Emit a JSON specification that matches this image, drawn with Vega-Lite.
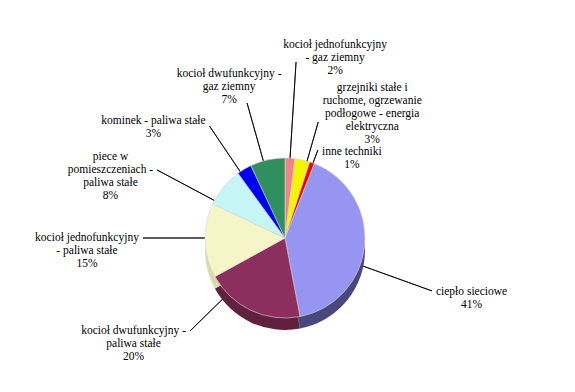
{
  "$schema": "https://vega.github.io/schema/vega-lite/v6.json",
  "width": 570,
  "height": 352,
  "autosize": {"type": "none"},
  "padding": {"left": 0, "top": 62, "right": 5, "bottom": 0},
  "background": "white",
  "view": {"stroke": null},
  "config": {"text": {"font": "Liberation Serif, Times New Roman, DejaVu Serif, serif", "fontSize": 11.5, "lineHeight": 13, "lineBreak": "\n", "align": "center", "baseline": "middle", "fill": "#000"}},
  "data": {
    "values": [
      {"order": 1, "category": "kocioł jednofunkcyjny - gaz ziemny", "label": "kocioł jednofunkcyjny\n- gaz ziemny\n2%", "share": 2},
      {"order": 2, "category": "grzejniki stałe i ruchome, ogrzewanie podłogowe - energia elektryczna", "label": "grzejniki stałe i\nruchome, ogrzewanie\npodłogowe - energia\nelektryczna\n3%", "share": 3},
      {"order": 3, "category": "inne techniki", "label": "inne techniki\n1%", "share": 1},
      {"order": 4, "category": "ciepło sieciowe", "label": "ciepło sieciowe\n41%", "share": 41},
      {"order": 5, "category": "kocioł dwufunkcyjny - paliwa stałe", "label": "kocioł dwufunkcyjny -\npaliwa stałe\n20%", "share": 20},
      {"order": 6, "category": "kocioł jednofunkcyjny - paliwa stałe", "label": "kocioł jednofunkcyjny\n- paliwa stałe\n15%", "share": 15},
      {"order": 7, "category": "piece w pomieszczeniach - paliwa stałe", "label": "piece w\npomieszczeniach -\npaliwa stałe\n8%", "share": 8},
      {"order": 8, "category": "kominek - paliwa stałe", "label": "kominek - paliwa stałe\n3%", "share": 3},
      {"order": 9, "category": "kocioł dwufunkcyjny - gaz ziemny", "label": "kocioł dwufunkcyjny -\ngaz ziemny\n7%", "share": 7}
    ]
  },
  "encoding": {
    "theta": {"field": "share", "type": "quantitative", "stack": true},
    "order": {"field": "order", "type": "quantitative"},
    "detail": {"field": "category", "type": "nominal"}
  },
  "layer": [
    {"mark": {"type": "arc", "innerRadius": 60, "outerRadius": 176.4, "padAngle": 3.1, "thetaOffset": 0, "theta2Offset": 0, "fill": "transparent", "stroke": "#000", "strokeWidth": 0.8},
     "encoding": {"strokeOpacity": {"condition": {"test": "datum.order === 1", "value": 1}, "value": 0}}},
    {"mark": {"type": "arc", "innerRadius": 60, "outerRadius": 120.7, "padAngle": 3.1, "thetaOffset": 0.0593, "theta2Offset": 0.0593, "fill": "transparent", "stroke": "#000", "strokeWidth": 0.8},
     "encoding": {"strokeOpacity": {"condition": {"test": "datum.order === 2", "value": 1}, "value": 0}}},
    {"mark": {"type": "arc", "innerRadius": 60, "outerRadius": 93.9, "padAngle": 3.1, "thetaOffset": 0.012, "theta2Offset": 0.012, "fill": "transparent", "stroke": "#000", "strokeWidth": 0.8},
     "encoding": {"strokeOpacity": {"condition": {"test": "datum.order === 3", "value": 1}, "value": 0}}},
    {"mark": {"type": "arc", "innerRadius": 60, "outerRadius": 156.2, "padAngle": 3.1, "thetaOffset": 0.2513, "theta2Offset": 0.2513, "fill": "transparent", "stroke": "#000", "strokeWidth": 0.8},
     "encoding": {"strokeOpacity": {"condition": {"test": "datum.order === 4", "value": 1}, "value": 0}}},
    {"mark": {"type": "arc", "innerRadius": 60, "outerRadius": 133, "padAngle": 3.1, "thetaOffset": 0.356, "theta2Offset": 0.356, "fill": "transparent", "stroke": "#000", "strokeWidth": 0.8},
     "encoding": {"strokeOpacity": {"condition": {"test": "datum.order === 5", "value": 1}, "value": 0}}},
    {"mark": {"type": "arc", "innerRadius": 60, "outerRadius": 142, "padAngle": 3.1, "thetaOffset": 0.0314, "theta2Offset": 0.0314, "fill": "transparent", "stroke": "#000", "strokeWidth": 0.8},
     "encoding": {"strokeOpacity": {"condition": {"test": "datum.order === 6", "value": 1}, "value": 0}}},
    {"mark": {"type": "arc", "innerRadius": 60, "outerRadius": 145, "padAngle": 3.1, "thetaOffset": -0.2025, "theta2Offset": -0.2025, "fill": "transparent", "stroke": "#000", "strokeWidth": 0.8},
     "encoding": {"strokeOpacity": {"condition": {"test": "datum.order === 7", "value": 1}, "value": 0}}},
    {"mark": {"type": "arc", "innerRadius": 60, "outerRadius": 135.1, "padAngle": 3.1, "thetaOffset": -0.0593, "theta2Offset": -0.0593, "fill": "transparent", "stroke": "#000", "strokeWidth": 0.8},
     "encoding": {"strokeOpacity": {"condition": {"test": "datum.order === 8", "value": 1}, "value": 0}}},
    {"mark": {"type": "arc", "innerRadius": 60, "outerRadius": 140.2, "padAngle": 3.1, "thetaOffset": -0.054, "theta2Offset": -0.054, "fill": "transparent", "stroke": "#000", "strokeWidth": 0.8},
     "encoding": {"strokeOpacity": {"condition": {"test": "datum.order === 9", "value": 1}, "value": 0}}},
    {"mark": {"type": "arc", "outerRadius": 80, "yOffset": 12},
     "encoding": {"fill": {"field": "category", "type": "nominal", "legend": null,
       "scale": {"domain": ["kocioł jednofunkcyjny - gaz ziemny", "grzejniki stałe i ruchome, ogrzewanie podłogowe - energia elektryczna", "inne techniki", "ciepło sieciowe", "kocioł dwufunkcyjny - paliwa stałe", "kocioł jednofunkcyjny - paliwa stałe", "piece w pomieszczeniach - paliwa stałe", "kominek - paliwa stałe", "kocioł dwufunkcyjny - gaz ziemny"],
                 "range": ["#B05C5C", "#B0B000", "#A00000", "#48487C", "#62203F", "#DADAAE", "#9EC4C4", "#0000A0", "#1F6040"]}}}},
    {"mark": {"type": "arc", "outerRadius": 80, "stroke": "#d8d8d8", "strokeWidth": 0.6},
     "encoding": {"color": {"field": "category", "type": "nominal", "legend": null,
       "scale": {"domain": ["kocioł jednofunkcyjny - gaz ziemny", "grzejniki stałe i ruchome, ogrzewanie podłogowe - energia elektryczna", "inne techniki", "ciepło sieciowe", "kocioł dwufunkcyjny - paliwa stałe", "kocioł jednofunkcyjny - paliwa stałe", "piece w pomieszczeniach - paliwa stałe", "kominek - paliwa stałe", "kocioł dwufunkcyjny - gaz ziemny"],
                 "range": ["#F48282", "#F5F500", "#F00000", "#9696F2", "#8C2F5F", "#F5F5C8", "#C6F5F5", "#0000F2", "#2F8F5F"]}}}},
    {"mark": {"type": "text", "radius": 176.4, "thetaOffset": 0, "dx": 39, "dy": -17},
     "encoding": {"text": {"field": "label"}, "opacity": {"condition": {"test": "datum.order === 1", "value": 1}, "value": 0}}},
    {"mark": {"type": "text", "radius": 120.7, "thetaOffset": 0.0593, "dx": 54, "dy": -34},
     "encoding": {"text": {"field": "label"}, "opacity": {"condition": {"test": "datum.order === 2", "value": 1}, "value": 0}}},
    {"mark": {"type": "text", "radius": 93.9, "thetaOffset": 0.012, "dx": 34, "dy": 1.5},
     "encoding": {"text": {"field": "label"}, "opacity": {"condition": {"test": "datum.order === 3", "value": 1}, "value": 0}}},
    {"mark": {"type": "text", "radius": 156.2, "thetaOffset": 0.2513, "dx": 39.6, "dy": 1},
     "encoding": {"text": {"field": "label"}, "opacity": {"condition": {"test": "datum.order === 4", "value": 1}, "value": 0}}},
    {"mark": {"type": "text", "radius": 133, "thetaOffset": 0.356, "dx": -56.4, "dy": 0},
     "encoding": {"text": {"field": "label"}, "opacity": {"condition": {"test": "datum.order === 5", "value": 1}, "value": 0}}},
    {"mark": {"type": "text", "radius": 142, "thetaOffset": 0.0314, "dx": -56, "dy": -0.5},
     "encoding": {"text": {"field": "label"}, "opacity": {"condition": {"test": "datum.order === 6", "value": 1}, "value": 0}}},
    {"mark": {"type": "text", "radius": 145, "thetaOffset": -0.2025, "dx": -46.5, "dy": -13},
     "encoding": {"text": {"field": "label"}, "opacity": {"condition": {"test": "datum.order === 7", "value": 1}, "value": 0}}},
    {"mark": {"type": "text", "radius": 135.1, "thetaOffset": -0.0593, "dx": -56, "dy": -5},
     "encoding": {"text": {"field": "label"}, "opacity": {"condition": {"test": "datum.order === 8", "value": 1}, "value": 0}}},
    {"mark": {"type": "text", "radius": 140.2, "thetaOffset": -0.054, "dx": -18, "dy": -29},
     "encoding": {"text": {"field": "label"}, "opacity": {"condition": {"test": "datum.order === 9", "value": 1}, "value": 0}}}
  ]
}
